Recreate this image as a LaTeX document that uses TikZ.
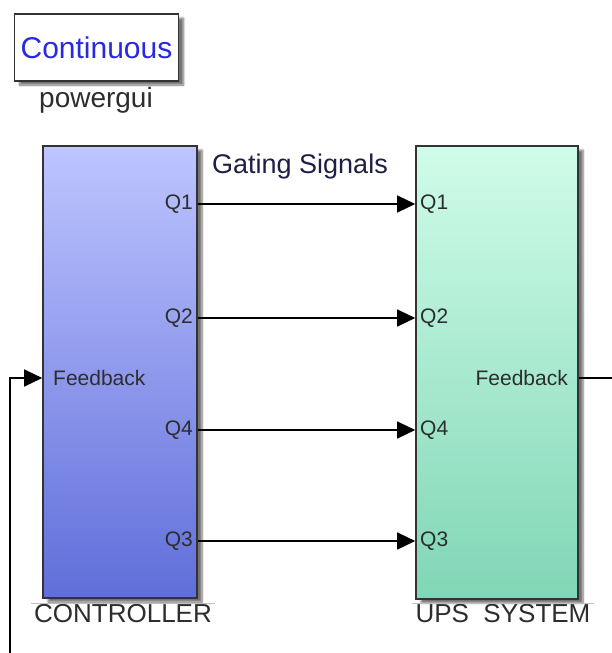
\documentclass[tikz,border=0pt]{standalone}
\usepackage{fontspec}
\setmainfont{Liberation Sans}
\usetikzlibrary{arrows.meta,shadows.blur}

\definecolor{ctrltop}{RGB}{190,197,255}
\definecolor{ctrlbot}{RGB}{96,110,218}
\definecolor{upstop}{RGB}{208,252,234}
\definecolor{upsbot}{RGB}{128,214,182}
\definecolor{guiblue}{RGB}{40,40,230}
\definecolor{txtgray}{RGB}{45,45,45}

\tikzset{
  blk/.style={draw=black!80, line width=1.6pt, inner sep=0pt,
    blur shadow={shadow xshift=5pt, shadow yshift=-4pt, shadow blur steps=6, shadow opacity=55}},
  port/.style={font=\fontsize{21}{23}\selectfont, text=txtgray, inner sep=2pt},
  blkname/.style={font=\fontsize{26}{28}\selectfont, text=txtgray, inner xsep=3pt, inner ysep=1pt},
  sig/.style={line width=1.3pt, -{Triangle[length=18pt,width=17pt]}},
}

\begin{document}
\begin{tikzpicture}[x=1pt, y=-1pt]
\useasboundingbox (0,0) rectangle (612,653);
% powergui block
\node[blk, fill=white, minimum width=164pt, minimum height=67pt,
  font=\fontsize{30}{32}\selectfont, text=guiblue] (gui) at (96.5,47.5) {Continuous};
\node[font=\fontsize{28}{30}\selectfont, text=txtgray] (guiname) at (96,100) {powergui};
% controller and plant
\node[blk, top color=ctrltop, bottom color=ctrlbot, minimum width=154pt, minimum height=452pt] (ctrl) at (120,372) {};
\node[blk, top color=upstop, bottom color=upsbot, minimum width=162pt, minimum height=453pt] (ups) at (497,372.5) {};
\node[blkname] (ctrlname) at (123,614) {CONTROLLER};
\node[blkname] (upsname) at (503,614) {UPS\ \ SYSTEM};
\draw[black!25, line width=1.5pt] (ctrlname.north west) -- (ctrlname.north east);
\draw[black!25, line width=1.5pt] (upsname.north west) -- (upsname.north east);
% gating signals
\node[font=\fontsize{27}{29}\selectfont, text={rgb,255:red,30;green,30;blue,70}] (gating) at (300,167) {Gating Signals};
\foreach \q/\y in {Q1/204,Q2/318,Q4/430,Q3/541} {
  \node[port, anchor=east] (c\q) at (195,\y) {\q};
  \node[port, anchor=west] (u\q) at (418,\y) {\q};
  \draw[sig] (ctrl.east |- c\q) -- (ups.west |- u\q);
}
% feedback loop
\node[port, anchor=west] (cfb) at (51,378) {Feedback};
\node[port, anchor=east] (ufb) at (570,378) {Feedback};
\coordinate (fbin) at (10,653);
\coordinate (fbout) at (612,378);
\draw[sig] (fbin) |- (ctrl.west |- cfb);
\draw[line width=1.3pt] (ups.east |- ufb) -- (fbout);
\end{tikzpicture}
\end{document}
